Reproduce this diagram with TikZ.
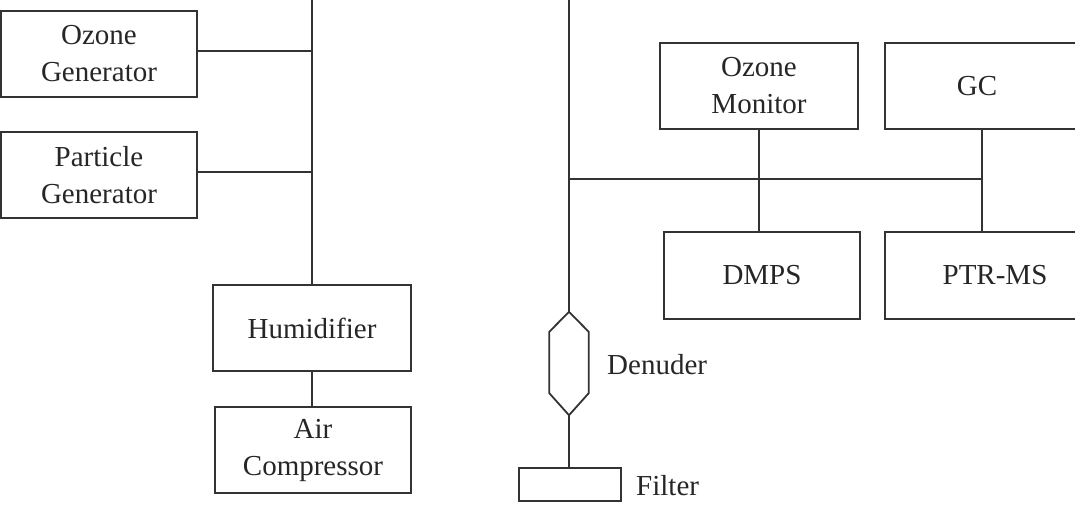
\documentclass[tikz,border=0pt]{standalone}
\usepackage{fontspec}
\setmainfont{Liberation Serif}
\begin{document}
\begin{tikzpicture}[x=1pt,y=-1pt,
  line/.style={draw=black!80, line width=1.8pt},
  box/.style={line, rectangle, inner sep=0pt, align=center, text=black!85,
    font=\fontsize{29}{37}\selectfont},
  openbox/.style={rectangle, inner sep=0pt, align=center, text=black!85,
    font=\fontsize{29}{37}\selectfont},
  lbl/.style={anchor=west, inner sep=0pt, text=black!85, font=\fontsize{29}{37}\selectfont}]
\useasboundingbox (0,0) rectangle (1075,505);
\clip (0,0) rectangle (1075,505);
% left side
\node[box, minimum width=196, minimum height=86] (ozg) at (99,54) {Ozone\\Generator};
\node[box, minimum width=196, minimum height=86] (pg) at (99,175) {Particle\\Generator};
\node[box, minimum width=198, minimum height=86] (hum) at (312,328) {Humidifier};
\node[box, minimum width=196, minimum height=86] (air) at (313,450) {Air\\Compressor};
\coordinate (topL) at (312,0);
\draw[line] (topL) -- (topL |- hum.north);
\draw[line] ([yshift=3]ozg.east) -- ([yshift=3]ozg.east -| topL);
\draw[line] ([yshift=3]pg.east) -- ([yshift=3]pg.east -| topL);
\draw[line] (hum.south -| topL) -- (topL |- air.north);
% right side
\node[box, minimum width=198, minimum height=86] (om) at (759,86) {Ozone\\Monitor};
\node[box, minimum width=196, minimum height=87] (dmps) at (762,275.5) {DMPS};
\node[openbox, minimum width=184, minimum height=86] (gc) at (977,86) {GC};
\node[openbox, minimum width=220, minimum height=87] (ptr) at (995,275.5) {PTR-MS};
\coordinate (R) at (1080,0);
\draw[line] (R |- gc.north) -- (gc.north west) -- (gc.south west) -- (R |- gc.south);
\draw[line] (R |- ptr.north) -- (ptr.north west) -- (ptr.south west) -- (R |- ptr.south);
\coordinate (topR) at (569,0);
\coordinate (jR) at (569,179);
\coordinate (jG) at (982,179);
\draw[line] (jR) -- (jG);
\draw[line] (om.south) -- (om.south |- dmps.north);
\draw[line] (jG |- gc.south) -- (jG |- ptr.north);
% denuder and filter
\node[rectangle, inner sep=0pt, minimum width=39, minimum height=103] (den) at (569,363.5) {};
\draw[line, line join=miter] (den.north) -- ([yshift=-20]den.north east) -- ([yshift=22]den.south east)
  -- (den.south) -- ([yshift=22]den.south west) -- ([yshift=-20]den.north west) -- cycle;
\draw[line] (topR) -- (den.north);
\node[box, minimum width=102, minimum height=33] (fil) at (570,484.5) {};
\draw[line] (den.south) -- (den.south |- fil.north);
\node[lbl] (denl) at (607,365) {Denuder};
\node[lbl] (fill) at (636,486) {Filter};
\end{tikzpicture}
\end{document}
